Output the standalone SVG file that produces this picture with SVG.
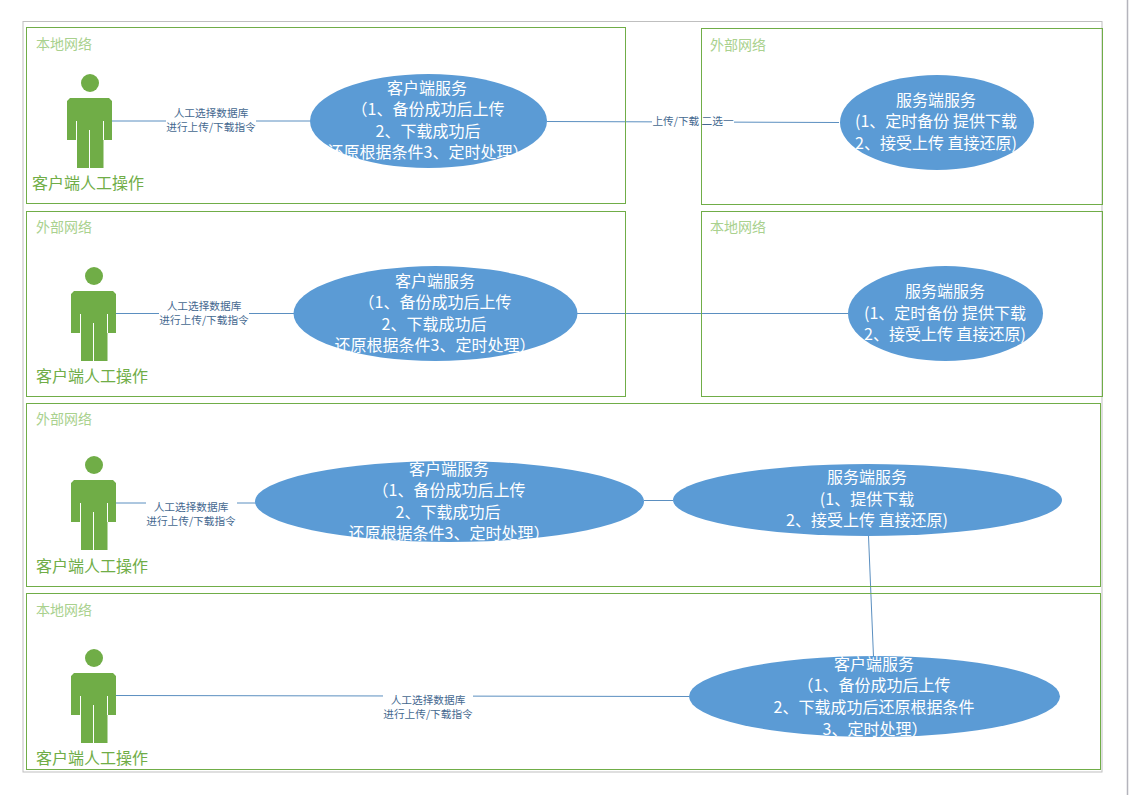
<svg xmlns="http://www.w3.org/2000/svg" xmlns:xlink="http://www.w3.org/1999/xlink" width="1129" height="795" viewBox="0 0 1129 795">
<style>
text{font-family:"Noto Sans CJK SC","Liberation Sans",sans-serif;text-anchor:middle}
.frame{fill:none;stroke:#70ad47;stroke-width:1}
.net{font-size:14px;fill:#a9d18e;text-anchor:start}
.actor{font-size:16px;fill:#70ad47}
.svc{fill:#5b9bd5}
.st{font-size:16px;fill:#fff}
.conn{fill:none;stroke:#5b8fc0;stroke-width:1}
.lbg{fill:#fff}
.lb{font-size:10.670px;fill:#44688f}
</style>
<defs>
<g id="person">
<circle cx="90" cy="83" r="9" fill="#70ad47"/>
<path d="M70 98H109L112 101V140H103.500V168H77V140H67V101Z" fill="#70ad47"/>
<path d="M76.500 121V140M103.500 121V140M89.500 130V168" stroke="#fff" stroke-width="1" fill="none"/>
</g>
</defs>
<rect width="1129" height="795" fill="#fff"/>
<path d="M1127.500 0V795" stroke="#b4b4bc" stroke-width="1.500"/>
<rect x="23" y="21.500" width="1079" height="750.500" fill="none" stroke="#bfbfbf"/>
<g id="connectors">
<path class="conn" d="M112 121H310"/>
<path class="conn" d="M547 121.500L839 122.500"/>
<path class="conn" d="M116 313.500H294"/>
<path class="conn" d="M577 313.500H848"/>
<path class="conn" d="M116 503H256"/>
<path class="conn" d="M644 500.500H673"/>
<path class="conn" d="M868.500 536L873.500 657"/>
<path class="conn" d="M116 695.500L689 696.500"/>
<g id="label-1"><rect class="lbg" x="166" y="106" width="90" height="28"/><text class="lb" x="211" y="117">人工选择数据库</text><text class="lb" x="211" y="131">进行上传/下载指令</text></g>
<g id="label-2"><rect class="lbg" x="652" y="113" width="82" height="15"/><text class="lb" x="693" y="124.500">上传/下载 二选一</text></g>
<g id="label-3"><rect class="lbg" x="159" y="299" width="90" height="28"/><text class="lb" x="204" y="310">人工选择数据库</text><text class="lb" x="204" y="324">进行上传/下载指令</text></g>
<g id="label-4"><rect class="lbg" x="146" y="499" width="91" height="29"/><text class="lb" x="191" y="511">人工选择数据库</text><text class="lb" x="191" y="525">进行上传/下载指令</text></g>
<g id="label-5"><rect class="lbg" x="383" y="693" width="90" height="28"/><text class="lb" x="428" y="704">人工选择数据库</text><text class="lb" x="428" y="718">进行上传/下载指令</text></g>
</g>
<g id="zone-1"><rect class="frame" x="26.500" y="27.500" width="599" height="176"/><text class="net" x="36" y="49">本地网络</text></g>
<g id="zone-2"><rect class="frame" x="701.500" y="28.500" width="401" height="176"/><text class="net" x="710" y="50">外部网络</text></g>
<g id="zone-3"><rect class="frame" x="26.500" y="211.500" width="599" height="185"/><text class="net" x="36" y="232">外部网络</text></g>
<g id="zone-4"><rect class="frame" x="701.500" y="211.500" width="401" height="185"/><text class="net" x="710" y="232">本地网络</text></g>
<g id="zone-5"><rect class="frame" x="26.500" y="403.500" width="1074" height="183"/><text class="net" x="36" y="424">外部网络</text></g>
<g id="zone-6"><rect class="frame" x="26.500" y="593.500" width="1074" height="176"/><text class="net" x="36" y="615">本地网络</text></g>
<g id="actor-1"><use xlink:href="#person" href="#person"/><text class="actor" x="88" y="189">客户端人工操作</text></g>
<g id="actor-2"><use xlink:href="#person" href="#person" transform="translate(4 193)"/><text class="actor" x="92" y="382">客户端人工操作</text></g>
<g id="actor-3"><use xlink:href="#person" href="#person" transform="translate(4 382)"/><text class="actor" x="92" y="572">客户端人工操作</text></g>
<g id="actor-4"><use xlink:href="#person" href="#person" transform="translate(4 575)"/><text class="actor" x="92" y="764">客户端人工操作</text></g>
<g id="client-1"><ellipse class="svc" cx="428.500" cy="121" rx="118.500" ry="47"/>
<text class="st" x="427" y="94">客户端服务</text><text class="st" x="428" y="115">（1、备份成功后上传</text><text class="st" x="428" y="137">2、下载成功后</text><text class="st" x="428" y="158">还原根据条件3、定时处理）</text></g>
<g id="server-1"><ellipse class="svc" cx="937" cy="122.500" rx="97" ry="47.500"/>
<text class="st" x="936" y="106">服务端服务</text><text class="st" x="936" y="127">(1、定时备份 提供下载</text><text class="st" x="936" y="149">2、接受上传 直接还原)</text></g>
<g id="client-2"><ellipse class="svc" cx="435.500" cy="313.500" rx="142" ry="47.500"/>
<text class="st" x="435" y="287">客户端服务</text><text class="st" x="435" y="308">（1、备份成功后上传</text><text class="st" x="434" y="330">2、下载成功后</text><text class="st" x="435" y="351">还原根据条件3、定时处理）</text></g>
<g id="server-2"><ellipse class="svc" cx="945.500" cy="313.500" rx="97.500" ry="47.500"/>
<text class="st" x="945" y="297">服务端服务</text><text class="st" x="945" y="319">(1、定时备份 提供下载</text><text class="st" x="945" y="340">2、接受上传 直接还原)</text></g>
<g id="client-3"><ellipse class="svc" cx="449.500" cy="501.500" rx="194.500" ry="40.500"/>
<text class="st" x="449" y="475">客户端服务</text><text class="st" x="449" y="496">（1、备份成功后上传</text><text class="st" x="448" y="518">2、下载成功后</text><text class="st" x="449" y="539">还原根据条件3、定时处理）</text></g>
<g id="server-3"><ellipse class="svc" cx="867.500" cy="500" rx="194.500" ry="36"/>
<text class="st" x="867" y="483">服务端服务</text><text class="st" x="867" y="505">(1、提供下载</text><text class="st" x="867" y="526">2、接受上传 直接还原)</text></g>
<g id="client-4"><ellipse class="svc" cx="874.500" cy="696.500" rx="185.500" ry="40.500"/>
<text class="st" x="874" y="670">客户端服务</text><text class="st" x="874" y="691">（1、备份成功后上传</text><text class="st" x="874" y="713">2、下载成功后还原根据条件</text><text class="st" x="875" y="735">3、定时处理）</text></g>
</svg>
